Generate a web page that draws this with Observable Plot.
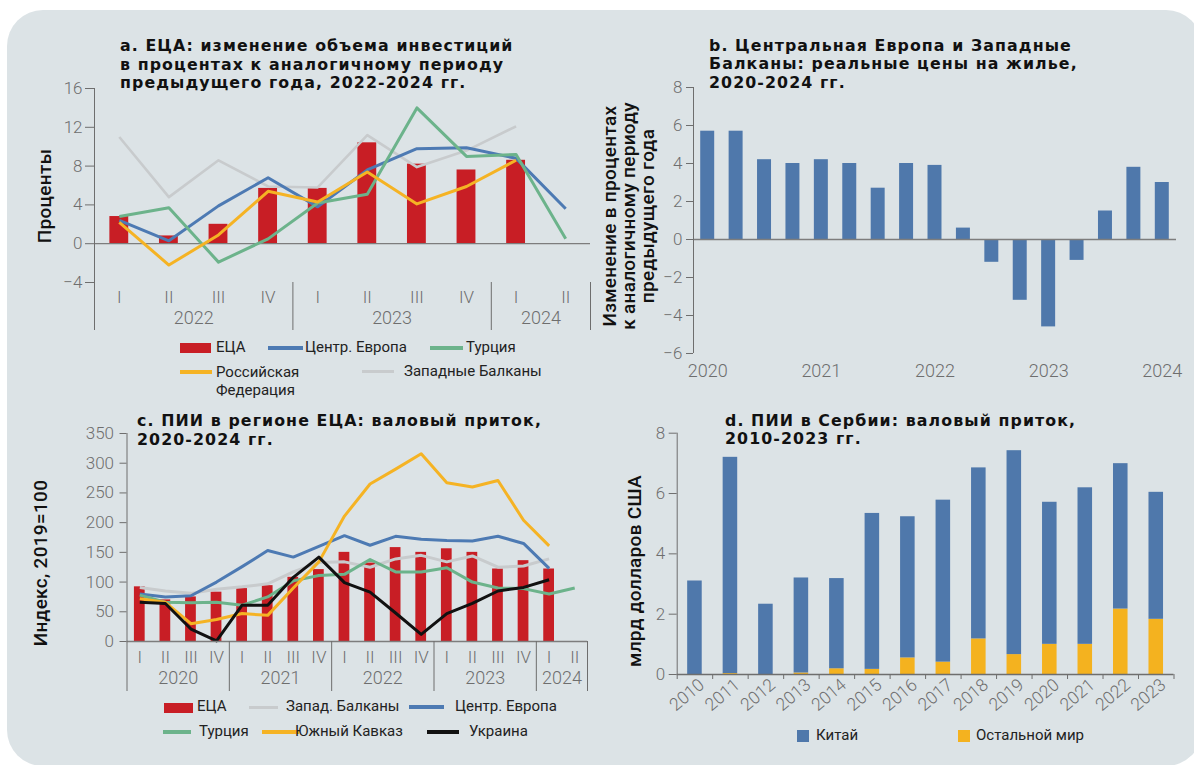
<!DOCTYPE html>
<html lang="ru"><head><meta charset="utf-8">
<script src="https://cdn.jsdelivr.net/npm/d3@7"></script>
<script src="https://cdn.jsdelivr.net/npm/@observablehq/plot@0.6"></script>
<style>
html,body{margin:0;padding:0;background:#fff;}
#root{position:relative;width:1194px;height:765px;overflow:hidden;background:#fff;}
#bg{position:absolute;left:7px;top:10px;width:1195px;height:756px;background:#dce3e6;border-radius:36px;}
.abs{position:absolute;}
.title{font-family:"DejaVu Sans",sans-serif;font-weight:700;font-size:15.8px;letter-spacing:1.1px;line-height:18.5px;color:#111;white-space:nowrap;}
.ylab{font-family:Roboto,sans-serif;font-weight:500;font-size:19px;letter-spacing:0.3px;line-height:19px;color:#111;white-space:nowrap;text-align:center;transform:translate(-50%,-50%) rotate(-90deg);}
.leg{font-family:Roboto,sans-serif;font-size:15px;color:#222;white-space:nowrap;line-height:17px;}
</style></head>
<body><div id="root"><div id="bg"></div></div>
<script>
// ---------------- DATA ----------------
// Panel a: ЕЦА — изменение объема инвестиций, % г/г
const aYears = ["2022", "2023", "2024"];
const aYearQuarters = [4, 4, 2];
const aQuarters = ["I", "II", "III", "IV", "I", "II", "III", "IV", "I", "II"];
const aECA = [2.8, 0.8, 2.0, 5.7, 5.7, 10.4, 8.2, 7.6, 8.6, null];
const aCE  = [2.4, 0.3, 3.9, 6.8, 3.8, 7.6, 9.8, 9.9, 8.8, 3.6];
const aTR  = [2.8, 3.7, -1.9, 0.5, 4.2, 5.1, 14.0, 9.0, 9.2, 0.5];
const aRU  = [2.2, -2.2, 0.9, 5.4, 4.3, 7.4, 4.1, 5.9, 8.6, null];
const aWB  = [11.0, 4.8, 8.6, 5.9, 5.8, 11.2, 7.9, 9.6, 12.1, null];
const aTicks = [-4, 0, 4, 8, 12, 16];

// Panel b: Центральная Европа и Западные Балканы — реальные цены на жилье
const bYears = ["2020", "2021", "2022", "2023", "2024"];
const bPrices = [5.7, 5.7, 4.2, 4.0, 4.2, 4.0, 2.7, 4.0, 3.9, 0.6, -1.2, -3.2, -4.6, -1.1, 1.5, 3.8, 3.0];
const bTicks = [-6, -4, -2, 0, 2, 4, 6, 8];

// Panel c: ПИИ в регионе ЕЦА, индекс 2019=100
const cYears = ["2020", "2021", "2022", "2023", "2024"];
const cYearQuarters = [4, 4, 4, 4, 2];
const cQuarters = ["I","II","III","IV","I","II","III","IV","I","II","III","IV","I","II","III","IV","I","II"];
const cECA = [92, 70, 75, 83, 89, 94, 108, 121, 150, 132, 158, 150, 156, 150, 122, 136, 122, null];
const cWB  = [91, 85, 81, 88, 92, 97, 117, 133, 134, 125, 139, 145, 134, 144, 125, 127, 139, null];
const cCE  = [80, 75, 77, 100, 126, 153, 142, 160, 178, 162, 177, 172, 170, 169, 177, 165, 123, null];
const cTR  = [78, 66, 65, 66, 61, 75, 102, 111, 113, 138, 117, 117, 124, 100, 90, 89, 80, 90];
const cSC  = [72, 66, 30, 37, 47, 44, 90, 134, 211, 265, 290, 316, 267, 260, 271, 204, 161, null];
const cUA  = [66, 64, 21, 1, 61, 61, 108, 142, 99, 83, 48, 12, 47, 64, 85, 91, 104, null];
const cTicks = [0, 50, 100, 150, 200, 250, 300, 350];

// Panel d: ПИИ в Сербии, млрд долларов США
const dYears = ["2010","2011","2012","2013","2014","2015","2016","2017","2018","2019","2020","2021","2022","2023"];
const dChina = [3.1, 7.17, 2.33, 3.15, 2.99, 5.17, 4.68, 5.37, 5.67, 6.76, 4.71, 5.19, 4.82, 4.21];
const dRest  = [0, 0.03, 0, 0.05, 0.19, 0.17, 0.55, 0.41, 1.18, 0.66, 1.0, 1.0, 2.17, 1.83];
const dTicks = [0, 2, 4, 6, 8];

// ---------------- STYLE ----------------
const RED = "#c81e25", BLUE = "#4d7ab3", GREEN = "#6cb38b", ORANGE = "#f5b324", GREY = "#c8cbcd", BLACK = "#111111";
const BARBLUE = "#4f78ab", DORANGE = "#f4b21f";
const AXIS = "#6e6e6e";
const plotStyle = {background: "transparent", fontFamily: "Roboto, sans-serif", fontSize: "17px", fontWeight: 300, color: AXIS, overflow: "visible"};

const root = document.getElementById("root");
function el(cls, css, html) {
  const e = document.createElement("div");
  e.className = cls;
  Object.assign(e.style, css);
  if (html != null) e.innerHTML = html;
  root.appendChild(e);
  return e;
}
function mount(svg, left, top) {
  const d = el("abs", {left: left + "px", top: top + "px"});
  d.appendChild(svg);
}
function yearMids(counts) { let s = 0; return counts.map(c => { const m = s + c / 2; s += c; return m; }); }
function yearBounds(counts) { let s = 0; const b = [0]; counts.forEach(c => { s += c; b.push(s); }); return b; }
function lineMark(rows, key, stroke, sw) {
  return Plot.line(rows.filter(d => d[key] != null), {x: d => d.i + 0.5, y: key, stroke, strokeWidth: sw, strokeLinejoin: "round", strokeLinecap: "butt"});
}

// ---------------- PANEL A ----------------
{
  const rows = aQuarters.map((q, i) => ({i, q, eca: aECA[i], ce: aCE[i], tr: aTR[i], ru: aRU[i], wb: aWB[i]}));
  const mids = yearMids(aYearQuarters);
  const svg = Plot.plot({
    width: 600, height: 340,
    marginLeft: 94, marginRight: 10, marginTop: 88, marginBottom: 58,
    x: {domain: [0, aQuarters.length], label: null},
    y: {domain: [-4, 16], label: null},
    style: plotStyle,
    marks: [
      Plot.rectY(rows.filter(d => d.eca != null), {x1: d => d.i + 0.31, x2: d => d.i + 0.69, y1: d => 0, y2: "eca", fill: RED}),
      Plot.ruleY([0], {stroke: "#7d7d7d", strokeWidth: 1.3}),
      lineMark(rows, "wb", GREY, 2.6),
      lineMark(rows, "ce", BLUE, 3),
      lineMark(rows, "tr", GREEN, 3),
      lineMark(rows, "ru", ORANGE, 3),
      Plot.ruleX([0], {stroke: AXIS}),
      Plot.axisY({ticks: aTicks, tickSize: 9, tickPadding: 3, label: null}),
      Plot.axisX({ticks: rows.map(d => d.i + 0.5), tickFormat: t => aQuarters[Math.floor(t)], tickSize: 0, tickPadding: 8, label: null}),
      Plot.axisX({ticks: mids, tickFormat: t => aYears[mids.indexOf(t)], tickSize: 0, tickPadding: 29, fontSize: 18, label: null}),
      Plot.axisX({ticks: yearBounds(aYearQuarters), tickFormat: () => "", tickSize: 48, label: null})
    ]
  });
  mount(svg, 0, 0);
  el("abs title", {left: "120px", top: "37px"}, "а. ЕЦА: изменение объема инвестиций<br>в процентах к аналогичному периоду<br>предыдущего года, 2022-2024 гг.");
  el("abs ylab", {left: "44px", top: "196px"}, "Проценты");
  // legend
  el("abs", {left: "180px", top: "343px", width: "31px", height: "10px", background: RED});
  el("abs leg", {left: "216px", top: "339px"}, "ЕЦА");
  el("abs", {left: "268px", top: "346px", width: "35px", height: "4px", background: BLUE});
  el("abs leg", {left: "305px", top: "339px"}, "Центр. Европа");
  el("abs", {left: "430px", top: "346px", width: "33px", height: "4px", background: GREEN});
  el("abs leg", {left: "466px", top: "339px"}, "Турция");
  el("abs", {left: "180px", top: "370px", width: "32px", height: "4px", background: ORANGE});
  el("abs leg", {left: "216px", top: "363px", lineHeight: "18px"}, "Российская<br>Федерация");
  el("abs", {left: "362px", top: "370px", width: "32px", height: "3px", background: GREY});
  el("abs leg", {left: "404px", top: "363px"}, "Западные Балканы");
}

// ---------------- PANEL B ----------------
{
  const rows = bPrices.map((v, i) => ({i, v}));
  const yearTicks = bYears.map((y, k) => k * 4 + 0.5);
  const svg = Plot.plot({
    width: 594, height: 390,
    marginLeft: 93, marginRight: 18, marginTop: 87, marginBottom: 37,
    x: {domain: [0, bPrices.length], label: null},
    y: {domain: [-6, 8], label: null},
    style: plotStyle,
    marks: [
      Plot.rectY(rows, {x1: d => d.i + 0.254, x2: d => d.i + 0.746, y1: d => 0, y2: "v", fill: BARBLUE}),
      Plot.ruleY([0], {stroke: "#7d7d7d", strokeWidth: 1.3}),
      Plot.ruleX([0], {stroke: AXIS}),
      Plot.axisY({ticks: bTicks, tickSize: 7, tickPadding: 4, label: null}),
      Plot.axisX({ticks: yearTicks, tickFormat: t => bYears[yearTicks.indexOf(t)], tickSize: 0, tickPadding: 11, fontSize: 18, label: null})
    ]
  });
  mount(svg, 600, 0);
  el("abs title", {left: "709px", top: "36.5px"}, "b. Центральная Европа и Западные<br>Балканы: реальные цены на жилье,<br>2020-2024 гг.");
  el("abs ylab", {left: "628px", top: "216px"}, "Изменение в процентах<br>к аналогичному периоду<br>предыдущего года");
}

// ---------------- PANEL C ----------------
{
  const rows = cQuarters.map((q, i) => ({i, q, eca: cECA[i], wb: cWB[i], ce: cCE[i], tr: cTR[i], sc: cSC[i], ua: cUA[i]}));
  const mids = yearMids(cYearQuarters);
  const svg = Plot.plot({
    width: 600, height: 320,
    marginLeft: 126.5, marginRight: 13, marginTop: 43, marginBottom: 69,
    x: {domain: [0, cQuarters.length], label: null},
    y: {domain: [0, 350], label: null},
    style: plotStyle,
    marks: [
      Plot.rectY(rows.filter(d => d.eca != null), {x1: d => d.i + 0.29, x2: d => d.i + 0.71, y1: d => 0, y2: "eca", fill: RED}),
      lineMark(rows, "wb", GREY, 3),
      lineMark(rows, "ce", BLUE, 3),
      lineMark(rows, "tr", GREEN, 3),
      lineMark(rows, "sc", ORANGE, 3),
      lineMark(rows, "ua", BLACK, 3),
      Plot.ruleY([0], {stroke: "#7d7d7d", strokeWidth: 1.3}),
      Plot.ruleX([0], {stroke: AXIS}),
      Plot.axisY({ticks: cTicks, tickSize: 7, tickPadding: 6, label: null}),
      Plot.axisX({ticks: rows.map(d => d.i + 0.5), tickFormat: t => cQuarters[Math.floor(t)], tickSize: 0, tickPadding: 9, label: null}),
      Plot.axisX({ticks: mids, tickFormat: t => cYears[mids.indexOf(t)], tickSize: 0, tickPadding: 30, fontSize: 18, label: null}),
      Plot.axisX({ticks: yearBounds(cYearQuarters), tickFormat: () => "", tickSize: 50, label: null})
    ]
  });
  mount(svg, 0, 390);
  el("abs title", {left: "137px", top: "412px"}, "с. ПИИ в регионе ЕЦА: валовый приток,<br>2020-2024 гг.");
  el("abs ylab", {left: "40px", top: "563px"}, "Индекс, 2019=100");
  el("abs", {left: "164px", top: "703px", width: "29px", height: "10px", background: RED});
  el("abs leg", {left: "197px", top: "698px"}, "ЕЦА");
  el("abs", {left: "249px", top: "706px", width: "29px", height: "3px", background: GREY});
  el("abs leg", {left: "286px", top: "698px"}, "Запад. Балканы");
  el("abs", {left: "409px", top: "705px", width: "35px", height: "4px", background: BLUE});
  el("abs leg", {left: "455px", top: "698px"}, "Центр. Европа");
  el("abs", {left: "163px", top: "730px", width: "28px", height: "4px", background: GREEN});
  el("abs leg", {left: "199px", top: "723px"}, "Турция");
  el("abs", {left: "262px", top: "730px", width: "37px", height: "4px", background: ORANGE});
  el("abs leg", {left: "295px", top: "723px"}, "Южный Кавказ");
  el("abs", {left: "427px", top: "730px", width: "32px", height: "4px", background: BLACK});
  el("abs leg", {left: "469px", top: "723px"}, "Украина");
}

// ---------------- PANEL D ----------------
{
  const rows = dYears.map((y, i) => ({i, y, china: dChina[i], rest: dRest[i]}));
  const centers = rows.map(d => d.i + 0.5);
  const svg = Plot.plot({
    width: 594, height: 330,
    marginLeft: 76.7, marginRight: 20.5, marginTop: 42.7, marginBottom: 46,
    x: {domain: [0, dYears.length], label: null},
    y: {domain: [0, 8], label: null},
    style: plotStyle,
    marks: [
      Plot.rectY(rows, {x1: d => d.i + 0.295, x2: d => d.i + 0.705, y1: d => 0, y2: "rest", fill: DORANGE}),
      Plot.rectY(rows, {x1: d => d.i + 0.295, x2: d => d.i + 0.705, y1: "rest", y2: d => d.rest + d.china, fill: BARBLUE}),
      Plot.ruleY([0], {stroke: AXIS, strokeWidth: 1.3}),
      Plot.ruleX([0], {stroke: AXIS}),
      Plot.axisY({ticks: dTicks, tickSize: 8, tickPadding: 4, label: null}),
      Plot.axisX({ticks: d3.range(0, dYears.length + 1), tickFormat: () => "", tickSize: 5, label: null}),
      Plot.axisX({ticks: centers, tickFormat: t => dYears[Math.floor(t)], tickSize: 0, tickPadding: 8, tickRotate: -40, dx: 7, fontSize: 17.5, label: null})
    ]
  });
  mount(svg, 600, 390);
  el("abs title", {left: "725px", top: "411.5px"}, "d. ПИИ в Сербии: валовый приток,<br>2010-2023 гг.");
  el("abs ylab", {left: "634px", top: "571px"}, "млрд долларов США");
  el("abs", {left: "797px", top: "730px", width: "12px", height: "12px", background: BARBLUE});
  el("abs leg", {left: "816px", top: "727px"}, "Китай");
  el("abs", {left: "958px", top: "730px", width: "12px", height: "12px", background: DORANGE});
  el("abs leg", {left: "976px", top: "727px"}, "Остальной мир");
}
</script></body></html>
